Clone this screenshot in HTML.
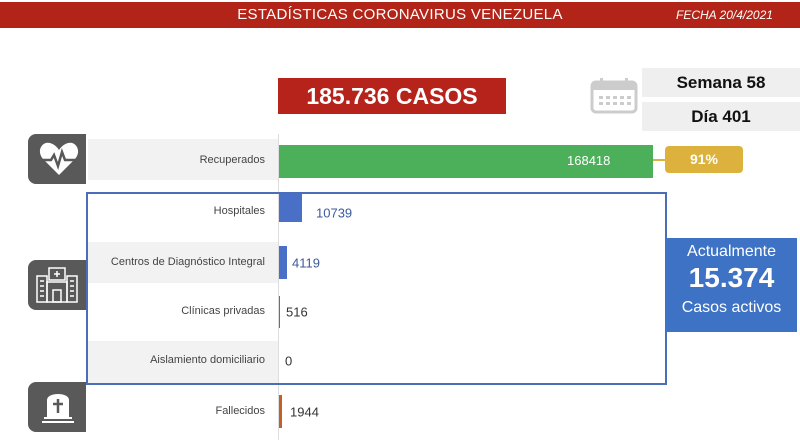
<!DOCTYPE html>
<html><head><meta charset="utf-8">
<style>
*{margin:0;padding:0;box-sizing:border-box}
body{width:800px;height:445px;background:#fff;position:relative;overflow:hidden;font-family:"Liberation Sans",sans-serif}
.a{position:absolute}
.lbl{position:absolute;right:535px;font-size:11px;color:#444;text-align:right;white-space:nowrap;transform:translateY(-50%)}
.val{position:absolute;font-size:13px;color:#333;transform:translateY(-50%)}
.band{position:absolute;left:88px;width:190px;background:#f2f2f2}
.icon{position:absolute;left:28px;width:58px;background:#595959;border-radius:8px 0 0 8px}
</style></head><body>
<div class="a" style="left:0;top:2px;width:800px;height:26px;background:#b22418"></div>
<div class="a" style="left:0;top:6px;width:800px;text-align:center;color:#fff;font-size:15px;letter-spacing:0.3px">ESTADÍSTICAS CORONAVIRUS VENEZUELA</div>
<div class="a" style="left:676px;top:8px;color:#fff;font-size:12px;font-style:italic">FECHA 20/4/2021</div>

<div class="a" style="left:278px;top:78px;width:228px;height:36px;background:#b5231b;color:#fff;font-weight:bold;font-size:23px;text-align:center;line-height:36px">185.736 CASOS</div>

<svg class="a" style="left:590px;top:77px" width="48" height="37" viewBox="0 0 48 37">
<rect x="2" y="5" width="44" height="30" rx="4" fill="none" stroke="#ccc" stroke-width="3"/>
<rect x="2" y="5" width="44" height="8" fill="#ccc"/>
<rect x="10" y="1" width="3" height="8" fill="#ccc"/><rect x="35" y="1" width="3" height="8" fill="#ccc"/>
<g fill="#ccc"><rect x="9" y="19" width="4" height="3"/><rect x="16" y="19" width="4" height="3"/><rect x="23" y="19" width="4" height="3"/><rect x="30" y="19" width="4" height="3"/><rect x="37" y="19" width="4" height="3"/>
<rect x="9" y="25" width="4" height="3"/><rect x="16" y="25" width="4" height="3"/><rect x="23" y="25" width="4" height="3"/><rect x="30" y="25" width="4" height="3"/><rect x="37" y="25" width="4" height="3"/></g>
</svg>
<div class="a" style="left:642px;top:68px;width:158px;height:29px;background:#efefef;text-align:center;line-height:29px;font-weight:bold;font-size:17px;color:#111">Semana 58</div>
<div class="a" style="left:642px;top:102px;width:158px;height:29px;background:#efefef;text-align:center;line-height:29px;font-weight:bold;font-size:17px;color:#111">Día 401</div>

<!-- bands -->
<div class="band" style="top:139px;height:41px"></div>
<div class="band" style="top:242px;height:41px"></div>
<div class="band" style="top:341px;height:42px"></div>
<div class="a" style="left:278px;top:134px;width:1px;height:306px;background:#ddd"></div>

<!-- icons -->
<div class="icon" style="top:134px;height:50px"></div>
<svg class="a" style="left:38px;top:140px" width="42" height="38" viewBox="0 0 42 38">
<path d="M21 35 L5 19 C-2 11 4 1 12 3 C16 4 19 7 21 10 C23 7 26 4 30 3 C38 1 44 11 37 19 Z" fill="#fff"/>
<polyline points="3,20 13,20 16,15 20,26 24,12 27,20 39,20" fill="none" stroke="#595959" stroke-width="2.5"/>
</svg>
<div class="icon" style="top:260px;height:50px"></div>
<svg class="a" style="left:35px;top:266px" width="44" height="38" viewBox="0 0 44 38" fill="none" stroke="#fff" stroke-width="1.5">
<rect x="14" y="2" width="16" height="12"/><path d="M22 5v6M19 8h6"/>
<rect x="2" y="10" width="10" height="26"/><rect x="32" y="10" width="10" height="26"/>
<rect x="12" y="16" width="20" height="20"/><rect x="18" y="24" width="8" height="12"/>
<path d="M5 15h4M5 20h4M5 25h4M5 30h4M35 15h4M35 20h4M35 25h4M35 30h4"/>
</svg>
<div class="icon" style="top:382px;height:50px"></div>
<svg class="a" style="left:38px;top:388px" width="40" height="40" viewBox="0 0 40 40">
<path d="M9 31 V12 C9 4 31 4 31 12 V31 Z" fill="#fff"/>
<path d="M20 11v14M15 16h10" stroke="#595959" stroke-width="2.5"/>
<rect x="4" y="33" width="32" height="2" fill="#fff"/><rect x="6" y="29" width="28" height="2" fill="#fff"/>
</svg>

<!-- Recuperados -->
<div class="lbl" style="top:160px">Recuperados</div>
<div class="a" style="left:279px;top:145px;width:374px;height:33px;background:#4caf5a"></div>
<div class="a" style="left:567px;top:153px;color:#fff;font-size:13px">168418</div>
<div class="a" style="left:653px;top:159px;width:12px;height:2px;background:#dcb23c"></div>
<div class="a" style="left:665px;top:146px;width:78px;height:27px;background:#dcb23c;border-radius:4px;color:#fff;font-weight:bold;font-size:14px;text-align:center;line-height:27px">91%</div>

<!-- frame -->
<div class="a" style="left:86px;top:192px;width:581px;height:193px;border:2px solid #4a6fb8"></div>

<div class="lbl" style="top:211px">Hospitales</div>
<div class="a" style="left:279px;top:194px;width:23px;height:28px;background:#4a6fc6"></div>
<div class="val" style="left:316px;top:213px;color:#3a5a9c">10739</div>

<div class="lbl" style="top:262px">Centros de Diagnóstico Integral</div>
<div class="a" style="left:279px;top:246px;width:8px;height:33px;background:#4a6fc6"></div>
<div class="val" style="left:292px;top:263px;color:#3a5a9c">4119</div>

<div class="lbl" style="top:311px">Clínicas privadas</div>
<div class="a" style="left:279px;top:296px;width:1px;height:32px;background:#4a6fc6"></div>
<div class="val" style="left:286px;top:312px">516</div>

<div class="lbl" style="top:360px">Aislamiento domiciliario</div>
<div class="val" style="left:285px;top:361px">0</div>

<div class="lbl" style="top:411px">Fallecidos</div>
<div class="a" style="left:279px;top:395px;width:3px;height:33px;background:#c0602a"></div>
<div class="val" style="left:290px;top:412px">1944</div>

<div class="a" style="left:666px;top:238px;width:131px;height:94px;background:#3d72c4;color:#fff;text-align:center">
<div style="font-size:16px;margin-top:5px">Actualmente</div>
<div style="font-size:28px;font-weight:bold;line-height:34px">15.374</div>
<div style="font-size:16px;margin-top:4px">Casos activos</div>
</div>
</body></html>
